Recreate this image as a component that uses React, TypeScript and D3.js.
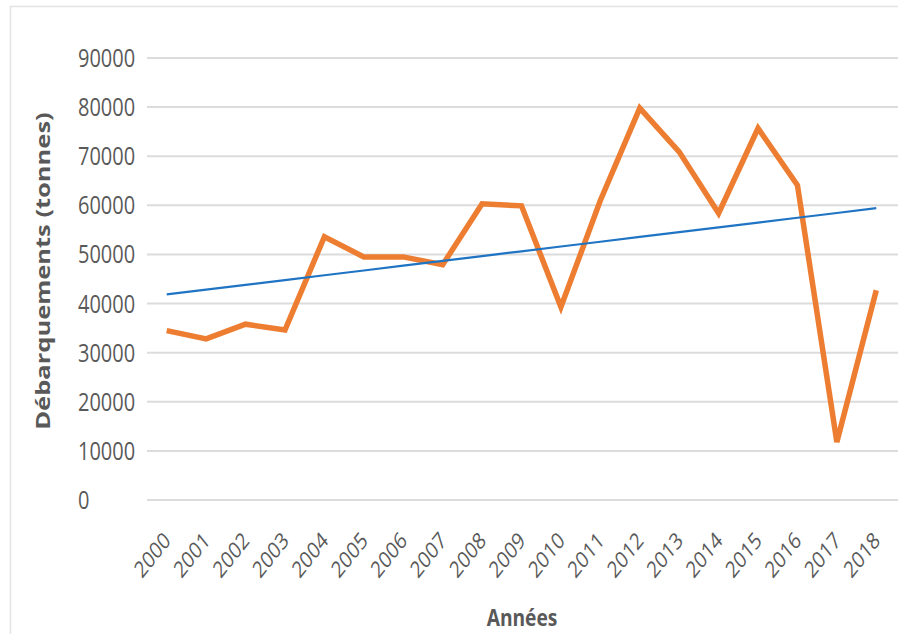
import React from 'react';
import * as d3 from 'd3';

const years = ['2000', '2001', '2002', '2003', '2004', '2005', '2006', '2007', '2008', '2009',
  '2010', '2011', '2012', '2013', '2014', '2015', '2016', '2017', '2018'];
const landings = [34500, 32800, 35800, 34600, 53600, 49500, 49500, 47900, 60300, 59900,
  39300, 61000, 79800, 70900, 58400, 75700, 64100, 11800, 42700];
const yTicks = [0, 10000, 20000, 30000, 40000, 50000, 60000, 70000, 80000, 90000];

const W = 898;
const H = 634;
const SX = 0.8; // the picture is squeezed horizontally

const App: React.FC = () => {
  const x = d3.scalePoint<string>().domain(years).range([147, 896]).padding(0.5);
  const y = d3.scaleLinear().domain([0, 90000]).range([500, 58]);

  // linear trend (least squares), like Excel's trendline
  const n = landings.length;
  const xm = (n - 1) / 2;
  const ym = d3.mean(landings) as number;
  const slope = d3.sum(landings, (v, i) => (i - xm) * (v - ym)) / d3.sum(landings, (_, i) => (i - xm) ** 2);
  const trend = years.map((_, i) => ym + slope * (i - xm));

  const line = d3.line<number>()
    .x((_, i) => x(years[i]) as number)
    .y(d => y(d));

  const grey = '#595959';

  return (
    <svg width={W} height={H} style={{ position: 'absolute', left: 0, top: 0, background: '#fff' }}>
      <rect x={10.5} y={6.5} width={W} height={H} fill="#fff" stroke="#e3e3e3" strokeWidth={1.5} />

      {/* gridlines */}
      {yTicks.map(t => (
        <line key={t} x1={147} x2={W} y1={y(t)} y2={y(t)} stroke="#dcdcdc" strokeWidth={2} />
      ))}

      {/* y tick labels */}
      {yTicks.map(t => (
        <text key={'l' + t} transform={`translate(78,${y(t) + 9}) scale(${SX},1)`}
          fontFamily="Open Sans" fontSize={25} fill={grey}>{t}</text>
      ))}

      {/* x tick labels */}
      {years.map(yr => (
        <text key={yr} transform={`translate(${(x(yr) as number) + 5},542) scale(${SX},1) rotate(-45)`}
          textAnchor="end" fontFamily="Open Sans" fontSize={23} fill={grey}>{yr}</text>
      ))}

      {/* series */}
      <path d={line(landings) || ''} fill="none" stroke="#ED7D31" strokeWidth={5.5} strokeLinejoin="miter" />
      <path d={line(trend) || ''} fill="none" stroke="#1f74c4" strokeWidth={2.2} />

      {/* axis titles */}
      <text transform={`translate(50,271) scale(${SX},1) rotate(-90)`} textAnchor="middle"
        fontFamily="Open Sans" fontWeight="bold" fontSize={25.5} fill={grey}>Débarquements (tonnes)</text>
      <text transform={`translate(522,626) scale(${SX},1)`} textAnchor="middle"
        fontFamily="Open Sans" fontWeight="bold" fontSize={24} fill={grey}>Années</text>
    </svg>
  );
};

export default App;
